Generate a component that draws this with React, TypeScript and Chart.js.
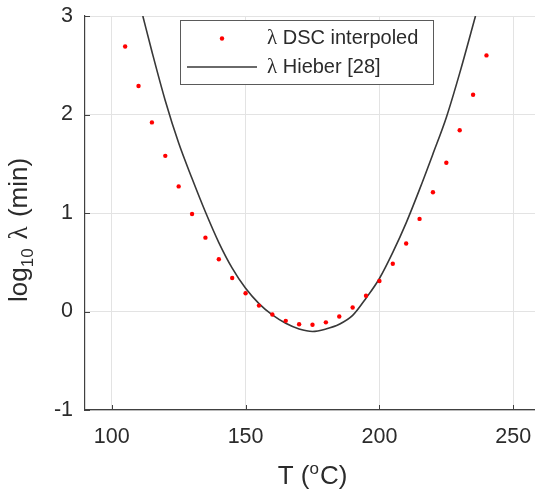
import React, { useEffect, useRef } from 'react';
import { Chart, registerables } from 'chart.js';

Chart.register(...registerables);

// DSC interpolated relaxation time (log10 λ, min)
const dscT = [105, 110, 115, 120, 125, 130, 135, 140, 145, 150, 155, 160, 165, 170, 175, 180, 185, 190, 195, 200, 205, 210, 215, 220, 225, 230, 235, 240];
const dscLog = [2.69, 2.29, 1.92, 1.58, 1.27, 0.99, 0.75, 0.53, 0.34, 0.185, 0.06, -0.03, -0.095, -0.13, -0.135, -0.11, -0.05, 0.04, 0.16, 0.31, 0.485, 0.69, 0.94, 1.21, 1.51, 1.84, 2.2, 2.6];

// Hieber [28] curve
const hieberT = [111.6, 115, 120, 125, 130, 135, 140, 145, 150, 155, 160, 165, 170, 175, 180, 185, 190, 195, 200, 205, 210, 215, 220, 225, 230, 235.9];
const hieberLog = [3.0, 2.64, 2.14, 1.71, 1.35, 1.01, 0.7, 0.44, 0.235, 0.08, -0.035, -0.12, -0.178, -0.203, -0.178, -0.13, -0.04, 0.135, 0.335, 0.6, 0.9, 1.24, 1.6, 1.97, 2.42, 3.0];

const xTicks = [100, 150, 200, 250];
const yTicks = [-1, 0, 1, 2, 3];
const seriesLabels = ['λ DSC interpoled', 'λ Hieber [28]'];

const SANS = "'Liberation Sans', Arial, Helvetica, sans-serif";
const SERIF = "'Liberation Serif', 'Times New Roman', serif";
const TEXT = '#2b2b2b';
const AXIS = '#404040';
const GRID = '#e3e3e3';
const CURVE = '#383838';

const overlayPlugin = {
  id: 'overlay',
  afterDraw(chart: any) {
    const ctx = chart.ctx as CanvasRenderingContext2D;
    const area = chart.chartArea;
    const xs = chart.scales.x;
    const ys = chart.scales.y;
    ctx.save();
    // inward ticks
    ctx.strokeStyle = AXIS;
    ctx.lineWidth = 1;
    ctx.beginPath();
    xTicks.forEach((v) => {
      const px = Math.round(xs.getPixelForValue(v)) + 0.5;
      ctx.moveTo(px, area.bottom);
      ctx.lineTo(px, area.bottom - 5);
    });
    yTicks.forEach((v) => {
      const py = Math.round(ys.getPixelForValue(v)) + 0.5;
      ctx.moveTo(area.left, py);
      ctx.lineTo(area.left + 5, py);
    });
    ctx.stroke();

    // x title: T (°C) with superscript o
    ctx.fillStyle = TEXT;
    ctx.textBaseline = 'alphabetic';
    ctx.textAlign = 'left';
    const big = `26px ${SANS}`;
    const small = `17px ${SANS}`;
    ctx.font = big;
    const w1 = ctx.measureText('T (').width;
    const w3 = ctx.measureText('C)').width;
    ctx.font = small;
    const w2 = ctx.measureText('o').width + 1;
    const total = w1 + w2 + w3;
    const x0 = 312.5 - total / 2;
    const by = 484;
    ctx.font = big;
    ctx.fillText('T (', x0, by);
    ctx.font = small;
    ctx.fillText('o', x0 + w1, by - 10);
    ctx.font = big;
    ctx.fillText('C)', x0 + w1 + w2, by);

    // y title: log10 λ (min)
    ctx.save();
    ctx.translate(27, 302);
    ctx.rotate(-Math.PI / 2);
    let cx = 0;
    ctx.font = big;
    ctx.fillText('log', cx, 0);
    cx += ctx.measureText('log').width;
    ctx.font = small;
    ctx.fillText('10', cx, 6);
    cx += ctx.measureText('10').width + 9;
    ctx.font = `27px ${SERIF}`;
    ctx.fillText('λ', cx, 0);
    cx += ctx.measureText('λ').width;
    ctx.font = big;
    ctx.fillText(' (min)', cx + 2, 0);
    ctx.restore();

    // legend box
    const lx = 180.5, ly = 20.5, lw = 253, lh = 64;
    ctx.fillStyle = '#ffffff';
    ctx.fillRect(lx, ly, lw, lh);
    ctx.strokeStyle = '#5a5a5a';
    ctx.lineWidth = 1;
    ctx.strokeRect(lx, ly, lw, lh);
    const rows = [38.5, 67];
    ctx.fillStyle = '#ff0000';
    ctx.beginPath();
    ctx.arc(222, rows[0], 2.2, 0, Math.PI * 2);
    ctx.fill();
    ctx.strokeStyle = CURVE;
    ctx.lineWidth = 1.6;
    ctx.beginPath();
    ctx.moveTo(187, rows[1]);
    ctx.lineTo(257, rows[1]);
    ctx.stroke();
    ctx.fillStyle = TEXT;
    ctx.textBaseline = 'middle';
    seriesLabels.forEach((lab, i) => {
      const first = lab.charAt(0);
      const rest = lab.slice(1);
      let tx = 267;
      ctx.font = `21px ${SERIF}`;
      ctx.fillText(first, tx, rows[i]);
      tx += ctx.measureText(first).width;
      ctx.font = `20px ${SANS}`;
      ctx.fillText(rest, tx, rows[i]);
    });
    ctx.restore();
  },
};

export default function App() {
  const ref = useRef<HTMLCanvasElement | null>(null);
  useEffect(() => {
    document.body.style.margin = '0';
    document.body.style.overflow = 'hidden';
    if (!ref.current) return;
    const chart = new Chart(ref.current, {
      type: 'scatter',
      data: {
        datasets: [
          {
            label: seriesLabels[0],
            data: dscT.map((t, i) => ({ x: t, y: dscLog[i] })),
            backgroundColor: '#ff0000',
            borderColor: '#ff0000',
            pointRadius: 2.2,
            pointBorderWidth: 0,
            showLine: false,
          },
          {
            label: seriesLabels[1],
            data: hieberT.map((t, i) => ({ x: t, y: hieberLog[i] })),
            borderColor: CURVE,
            backgroundColor: CURVE,
            borderWidth: 1.6,
            pointRadius: 0,
            showLine: true,
            cubicInterpolationMode: 'monotone',
          },
        ],
      },
      options: {
        animation: false,
        responsive: false,
        devicePixelRatio: 1,
        layout: { padding: { top: 16, right: 0, left: 0, bottom: 0 } },
        plugins: { legend: { display: false }, tooltip: { enabled: false } },
        scales: {
          x: {
            type: 'linear',
            min: 90,
            max: 260,
            afterBuildTicks: (s: any) => {
              s.ticks = xTicks.map((v) => ({ value: v }));
            },
            afterFit: (s: any) => {
              s.height = 82;
              s.paddingLeft = 0;
              s.paddingRight = 0;
            },
            ticks: {
              font: { family: SANS, size: 21.5 },
              color: TEXT,
              padding: 14,
              maxRotation: 0,
            },
            grid: { color: GRID, drawTicks: false, lineWidth: 1 },
            border: { display: true, color: AXIS, width: 1.2 },
          },
          y: {
            type: 'linear',
            min: -1,
            max: 3,
            afterBuildTicks: (s: any) => {
              s.ticks = yTicks.map((v) => ({ value: v }));
            },
            afterFit: (s: any) => {
              s.width = 85;
              s.paddingTop = 0;
              s.paddingBottom = 0;
            },
            ticks: {
              font: { family: SANS, size: 21.5 },
              color: TEXT,
              padding: 12,
            },
            grid: { color: GRID, drawTicks: false, lineWidth: 1 },
            border: { display: true, color: AXIS, width: 1.2 },
          },
        },
      },
      plugins: [overlayPlugin],
    } as any);
    return () => chart.destroy();
  }, []);
  return (
    <div style={{ width: 535, height: 492, background: '#fff', overflow: 'hidden' }}>
      <canvas ref={ref} width={544} height={492} style={{ display: 'block', width: 544, height: 492 }} />
    </div>
  );
}
